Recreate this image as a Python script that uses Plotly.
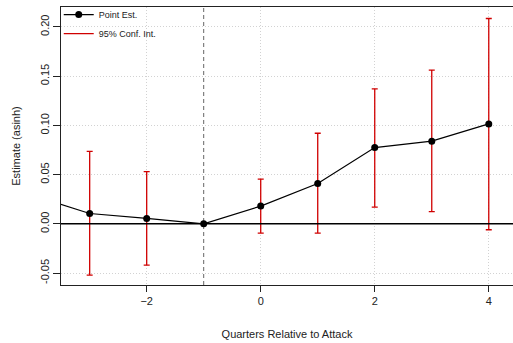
import plotly.graph_objects as go

# Data
quarters = [-4, -3, -2, -1, 0, 1, 2, 3, 4]
estimates = [0.029, 0.0105, 0.0055, 0.0, 0.018, 0.041, 0.0775, 0.084, 0.1015]
ci_quarters = [-3, -2, 0, 1, 2, 3, 4]
ci_est = [0.0105, 0.0055, 0.018, 0.041, 0.0775, 0.084, 0.1015]
ci_lower = [-0.052, -0.042, -0.0095, -0.0095, 0.017, 0.0125, -0.006]
ci_upper = [0.0735, 0.053, 0.0455, 0.092, 0.137, 0.156, 0.2085]
x_ticks = [-2, 0, 2, 4]
x_tick_text = ["\u22122", "0", "2", "4"]
y_ticks = [-0.05, 0.0, 0.05, 0.10, 0.15, 0.20]
y_tick_text = ["-0.05", "0.00", "0.05", "0.10", "0.15", "0.20"]

font = "Liberation Sans, Arial, sans-serif"
red = "#d00000"

fig = go.Figure()

# CI error bars
fig.add_trace(go.Scatter(
    x=ci_quarters, y=ci_est, mode="markers",
    marker=dict(size=0.1, color="rgba(0,0,0,0)"),
    error_y=dict(type="data", symmetric=False,
                 array=[u - e for u, e in zip(ci_upper, ci_est)],
                 arrayminus=[e - l for l, e in zip(ci_lower, ci_est)],
                 color=red, thickness=1.3, width=3),
    showlegend=False, hoverinfo="skip"))

# Point estimates
fig.add_trace(go.Scatter(
    x=quarters, y=estimates, mode="lines+markers", name="Point Est.",
    line=dict(color="black", width=1.2),
    marker=dict(color="black", size=7)))

# Legend entry for CI
fig.add_trace(go.Scatter(
    x=[None], y=[None], mode="lines", name="95% Conf. Int.",
    line=dict(color=red, width=1.3)))

fig.add_hline(y=0, line=dict(color="black", width=1.5), layer="above")
fig.add_vline(x=-1, line=dict(color="#666666", width=1, dash="4px,3px"), layer="below")

fig.update_layout(
    width=513, height=343,
    margin=dict(l=61, r=0, t=5, b=58),
    plot_bgcolor="white", paper_bgcolor="white",
    font=dict(family=font, size=11, color="#222"),
    showlegend=True,
    legend=dict(x=-0.005, y=1.025, xanchor="left", yanchor="top",
                bgcolor="rgba(255,255,255,0)", font=dict(size=9),
                tracegroupgap=0, itemwidth=30),
    xaxis=dict(range=[-3.503, 4.425], tickvals=x_ticks, ticktext=x_tick_text,
               showgrid=True, gridcolor="#d2d2d2", griddash="1px,2px", gridwidth=1,
               zeroline=False, showline=True, linecolor="#222", linewidth=1,
               mirror=True, ticks="outside", ticklen=6, tickcolor="#222",
               title=dict(text="Quarters Relative to Attack", font=dict(size=11), standoff=24)),
    yaxis=dict(range=[-0.0621, 0.2202], tickvals=y_ticks, ticktext=y_tick_text,
               tickangle=-90,
               showgrid=True, gridcolor="#d2d2d2", griddash="1px,2px", gridwidth=1,
               zeroline=False, showline=True, linecolor="#222", linewidth=1,
               mirror=True, ticks="outside", ticklen=7, tickcolor="#222",
               title=dict(text="Estimate (asinh)", font=dict(size=11), standoff=15)),
)

fig.write_html("out.html")
